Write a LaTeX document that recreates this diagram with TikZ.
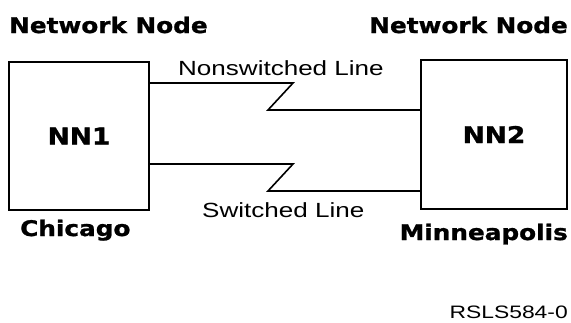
\documentclass[tikz,border=0pt]{standalone}
\usepackage{fontspec}
\newfontfamily\chifont{DejaVu Sans Bold}[FakeStretch=1.15,FakeBold=1.2]
\newfontfamily\genfont{Liberation Sans}[FakeStretch=1.27]
\newcommand{\boldlbl}[1]{{\chifont\fontsize{21.5}{25}\selectfont #1}}
\newcommand{\nnlbl}[1]{{\chifont\fontsize{23}{26}\selectfont #1}}
\newcommand{\linelbl}[1]{{\genfont\fontsize{20.5}{23}\selectfont #1}}

\begin{document}
\begin{tikzpicture}[x=1pt,y=-1pt,
  nodebox/.style={draw, line width=1.8pt, inner sep=0pt},
  link/.style={line width=1.6pt},
  lbl/.style={inner sep=0pt}]
\useasboundingbox (0,0) rectangle (571,322);
% network nodes
\node[nodebox, minimum width=140pt, minimum height=148pt] (nn1) at (79,136) {\nnlbl{NN1}};
\node[nodebox, minimum width=146pt, minimum height=149pt] (nn2) at (494,134.5) {\nnlbl{NN2}};
% labels
\node[lbl, anchor=base west] (top1) at (9,33) {\boldlbl{Network Node}};
\node[lbl, anchor=base east] (top2) at (568,33) {\boldlbl{Network Node}};
\node[lbl, anchor=base west] (city1) at (20,236) {\boldlbl{Chicago}};
\node[lbl, anchor=base east] (city2) at (568,240) {\boldlbl{Minneapolis}};
% lines between nodes
\coordinate (nsa) at (293,83);
\coordinate (nsb) at (268,110);
\coordinate (swa) at (293,164);
\coordinate (swb) at (268,191);
\draw[link] (nn1.east |- nsa) -- (nsa) -- (nsb) -- (nn2.west |- nsb);
\draw[link] (nn1.east |- swa) -- (swa) -- (swb) -- (nn2.west |- swb);
\node[lbl, anchor=base west] (nslbl) at (178,75) {\linelbl{Nonswitched Line}};
\node[lbl, anchor=base west] (swlbl) at (202,217) {\linelbl{Switched Line}};
\node[lbl, anchor=base east] (code) at (568,318) {{\genfont\fontsize{18}{21}\selectfont RSLS584-0}};
\end{tikzpicture}
\end{document}
